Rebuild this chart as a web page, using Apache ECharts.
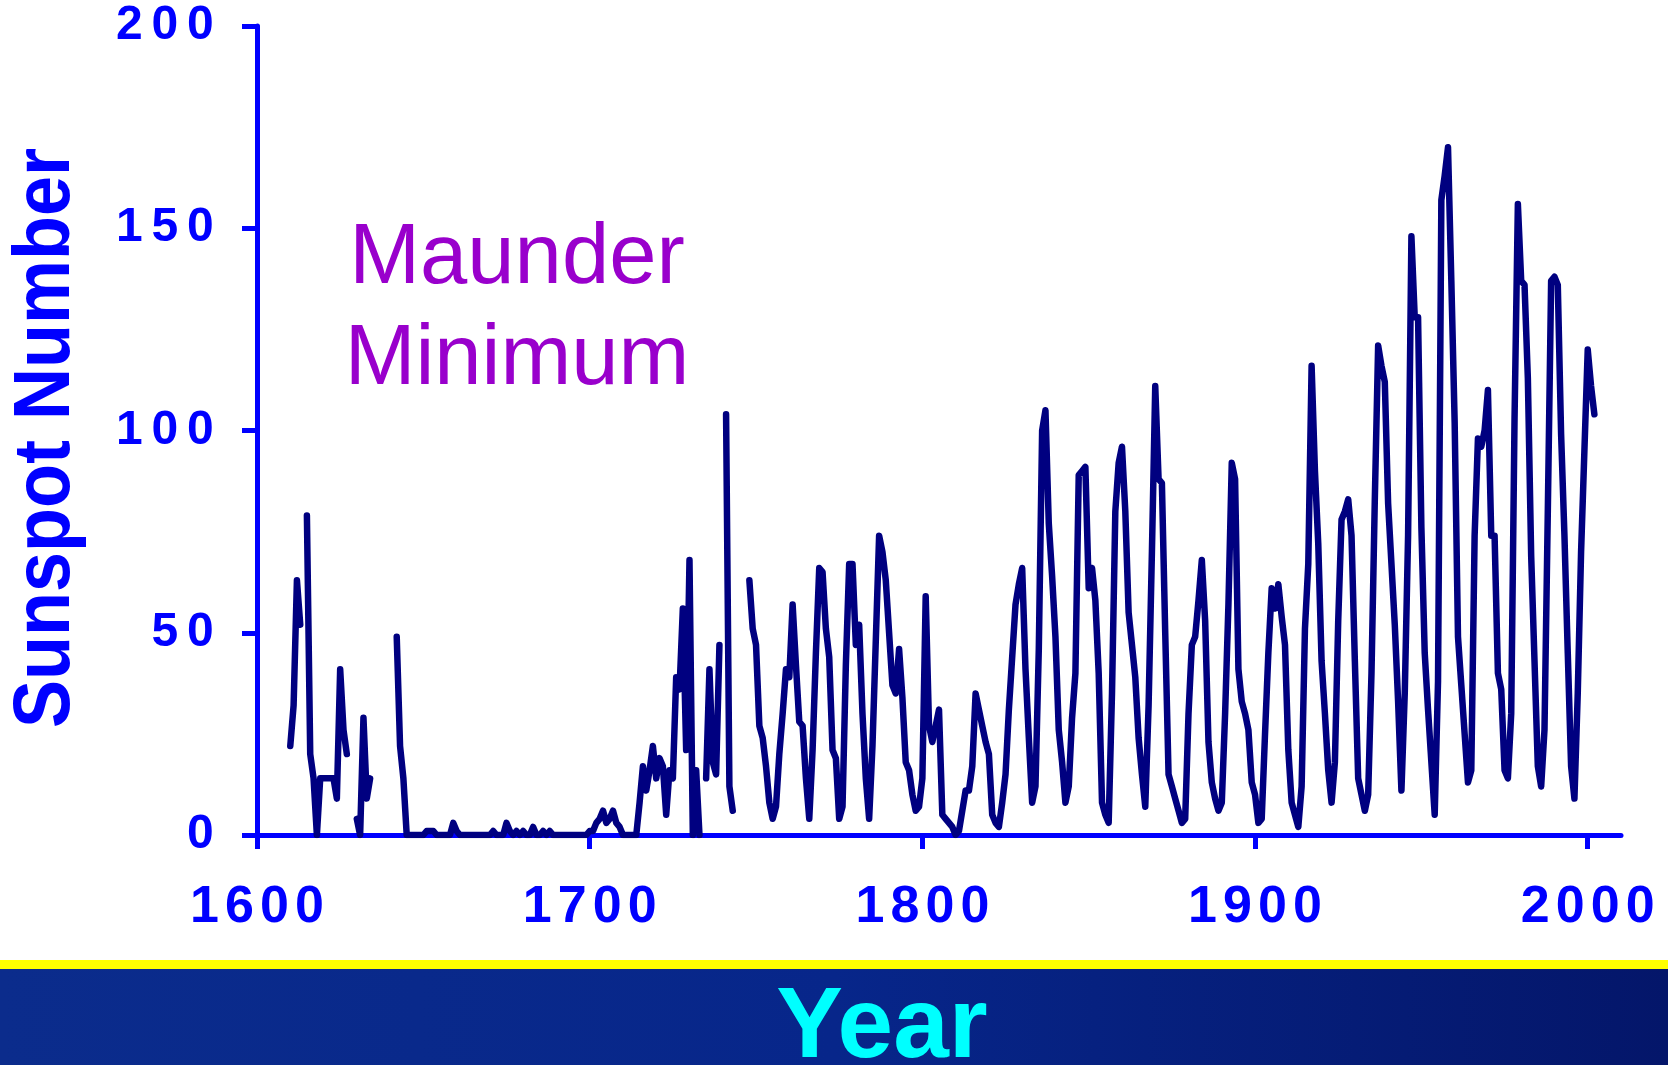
<!DOCTYPE html>
<html>
<head>
<meta charset="utf-8">
<title>Sunspot Number</title>
<script src="https://cdn.jsdelivr.net/npm/echarts@6/dist/echarts.min.js"></script>
<style>
html, body { margin: 0; padding: 0; background: #fff; }
#chart { width: 1668px; height: 1065px; }
</style>
</head>
<body>
<div id="chart"></div>
<script>
// yearly sunspot numbers, one value per year starting at firstYear (null = no record)
const firstYear = 1610;
const sunspots = [
    22, 32, 63, 52, null, 79, 20, 14, 0, 14,        // 1610
    14, 14, 14, 14, 9, 41, 26, 20, null, null,      // 1620
    4, 0, 29, 9, 14, null, null, null, null, null,  // 1630
    null, null, 49, 22, 14, 0, 0, 0, 0, 0,          // 1640
    0, 1, 1, 1, 0, 0, 0, 0, 0, 3,                   // 1650
    1, 0, 0, 0, 0, 0, 0, 0, 0, 0,                   // 1660
    0, 1, 0, 0, 0, 3, 1, 0, 1, 0,                   // 1670
    1, 0, 0, 2, 0, 0, 1, 0, 1, 0,                   // 1680
    0, 0, 0, 0, 0, 0, 0, 0, 0, 0,                   // 1690
    1, 1, 3, 4, 6, 3, 4, 6, 3, 2,                   // 1700
    0, 0, 0, 0, 0, 8, 17, 11, 16, 22,               // 1710
    14, 19, 17, 5, 16, 14, 39, 36, 56, 21,          // 1720
    68, 0, 16, 0, null, 14, 41, 18, 15, 47,         // 1730
    null, 104, 12, 6, null, null, null, null, 63, 51, // 1740
    47, 27, 24, 17, 8, 4, 7, 20, 30, 41,            // 1750
    39, 57, 42, 28, 27, 14, 4, 21, 45, 66,          // 1760
    65, 51, 44, 21, 19, 4, 7, 42, 67, 67,           // 1770
    47, 52, 30, 14, 4, 22, 48, 74, 70, 63,          // 1780
    50, 37, 35, 46, 34, 18, 16, 10, 6, 7,           // 1790
    14, 59, 27, 23, 27, 31, 5, 4, 3, 2,             // 1800
    0, 1, 6, 11, 11, 17, 35, 31, 27, 23,            // 1810
    20, 5, 3, 2, 8, 15, 31, 44, 57, 62,             // 1820
    66, 41, 24, 8, 12, 46, 100, 105, 77, 64,        // 1830
    49, 26, 18, 8, 12, 29, 40, 89, 90, 91,          // 1840
    61, 66, 58, 40, 8, 5, 3, 35, 80, 92,            // 1850
    96, 80, 55, 47, 39, 24, 15, 7, 32, 70,          // 1860
    111, 88, 87, 50, 15, 12, 9, 6, 3, 4,            // 1870
    30, 47, 49, 58, 68, 53, 23, 13, 9, 6,           // 1880
    8, 30, 57, 92, 88, 41, 33, 30, 26, 13,          // 1890
    10, 3, 4, 25, 45, 61, 56, 62, 54, 47,           // 1900
    21, 8, 5, 2, 12, 51, 67, 116, 90, 72,           // 1910
    43, 30, 16, 8, 18, 53, 78, 80, 83, 74,          // 1920
    43, 14, 10, 6, 10, 40, 83, 121, 116, 112,       // 1930
    82, 67, 52, 33, 11, 35, 74, 148, 128, 128,      // 1940
    76, 45, 31, 18, 5, 38, 157, 163, 170, 137,      // 1950
    102, 49, 37, 25, 13, 16, 74, 98, 96, 100,       // 1960
    110, 74, 74, 40, 36, 16, 14, 30, 103, 156,      // 1970
    137, 136, 113, 69, 43, 17, 12, 26, 80, 137,     // 1980
    138, 136, 99, 74, 45, 17, 9, 35, 70, 95,        // 1990
    120, 111, 104                                   // 2000
];
const xTicks = [1600, 1700, 1800, 1900, 2000];
const yTicks = [0, 50, 100, 150, 200];
const yTitle = 'Sunspot Number';
const xTitle = 'Year';
const note = 'Maunder\nMinimum';

const blue = '#0000ff';
const arial = '"Liberation Sans", Arial, sans-serif';

let seriesData = sunspots.map((v, i) => [firstYear + i, v]);

// tick labels drawn digit by digit so they come out letter-spaced
function spaced(value) {
    return String(value).split('').map(d => '{d|' + d + '}').join('');
}

let chartDom = document.getElementById('chart');
let myChart = echarts.init(chartDom);

let option = {
    animation: false,
    backgroundColor: '#ffffff',
    grid: {
        left: 257,
        right: 47,
        top: 26,
        bottom: 230,
        containLabel: false,
        outerBoundsMode: 'none'
    },
    xAxis: {
        type: 'value',
        min: 1600,
        max: 2010,
        offset: 2,
        splitLine: { show: false },
        axisLine: { lineStyle: { color: blue, width: 5 } },
        axisTick: {
            customValues: xTicks,
            length: 14,
            lineStyle: { color: blue, width: 5 }
        },
        axisLabel: {
            customValues: xTicks,
            margin: 45,
            formatter: spaced,
            rich: {
                d: { width: 35, align: 'center', fontSize: 52, lineHeight: 52, fontWeight: 'bold', color: blue, fontFamily: arial }
            }
        }
    },
    yAxis: {
        type: 'value',
        min: 0,
        max: 200,
        interval: 50,
        splitLine: { show: false },
        axisLine: { lineStyle: { color: blue, width: 5 } },
        axisTick: { length: 15, lineStyle: { color: blue, width: 5 } },
        axisLabel: {
            margin: 39,
            formatter: spaced,
            rich: {
                d: { width: 35.5, align: 'center', fontSize: 48, lineHeight: 48, fontWeight: 'bold', color: blue, fontFamily: arial }
            }
        }
    },
    graphic: [
        {
            // condensed, rotated axis title
            type: 'text',
            x: 47,
            y: 438,
            rotation: Math.PI / 2,
            scaleX: 0.9,
            style: {
                text: yTitle,
                fill: blue,
                fontSize: 80,
                fontWeight: 'bold',
                fontFamily: arial,
                align: 'center',
                verticalAlign: 'middle'
            }
        },
        {
            type: 'rect',
            shape: { x: 0, y: 960, width: 1668, height: 10 },
            style: { fill: '#ffff00' }
        },
        {
            type: 'rect',
            shape: { x: 0, y: 969, width: 1668, height: 96 },
            style: {
                fill: new echarts.graphic.LinearGradient(0, 0, 1, 0, [
                    { offset: 0, color: '#0b2c8c' },
                    { offset: 0.5, color: '#07268a' },
                    { offset: 1, color: '#04166a' }
                ])
            }
        },
        {
            type: 'text',
            x: 882,
            y: 1029,
            style: {
                text: xTitle,
                fill: '#00ffff',
                fontSize: 100,
                fontWeight: 'bold',
                fontFamily: arial,
                align: 'center',
                verticalAlign: 'middle'
            }
        },
        {
            type: 'text',
            x: 517,
            y: 310,
            style: {
                text: note,
                fill: '#9900cc',
                fontSize: 85,
                lineHeight: 101,
                fontFamily: arial,
                align: 'center',
                verticalAlign: 'middle'
            }
        }
    ],
    series: [
        {
            name: yTitle,
            type: 'line',
            data: seriesData,
            showSymbol: false,
            connectNulls: false,
            silent: true,
            lineStyle: { color: '#000080', width: 6.5, cap: 'round', join: 'round' }
        }
    ]
};
myChart.setOption(option);

window.addEventListener('resize', () => {
    myChart.resize()
})
</script>
</body>
</html>
